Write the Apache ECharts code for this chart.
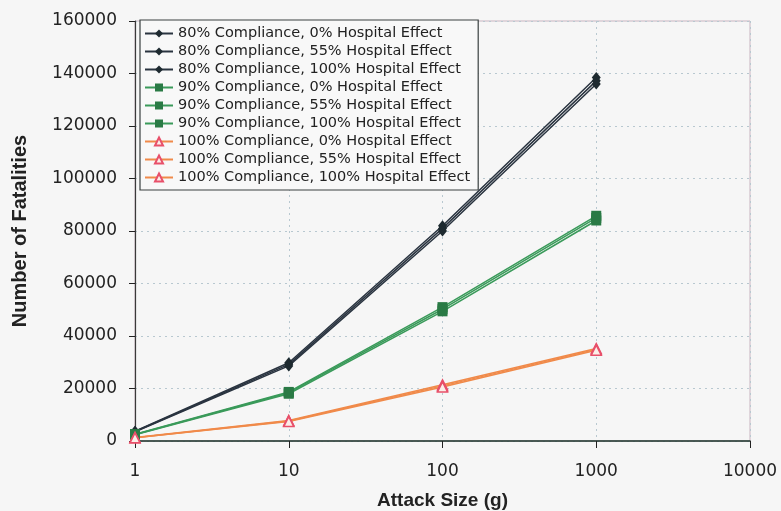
<!DOCTYPE html>
<html>
<head>
<meta charset="utf-8">
<script src="https://cdn.jsdelivr.net/npm/echarts@6/dist/echarts.min.js"></script>
<style>
html,body{margin:0;padding:0;background:#f6f6f6;}
#c{width:781px;height:511px;}
</style>
</head>
<body>
<div id="c"></div>
<script>
const attackSizes = [1, 10, 100, 1000];
const yTicks = [0, 20000, 40000, 60000, 80000, 100000, 120000, 140000, 160000];
const xTicks = [1, 10, 100, 1000, 10000];

const seriesNames = [
  "80% Compliance, 0% Hospital Effect",
  "80% Compliance, 55% Hospital Effect",
  "80% Compliance, 100% Hospital Effect",
  "90% Compliance, 0% Hospital Effect",
  "90% Compliance, 55% Hospital Effect",
  "90% Compliance, 100% Hospital Effect",
  "100% Compliance, 0% Hospital Effect",
  "100% Compliance, 55% Hospital Effect",
  "100% Compliance, 100% Hospital Effect"
];
const c80_h0   = [3700, 29800, 82000, 138500];
const c80_h55  = [3600, 29200, 81000, 137200];
const c80_h100 = [3500, 28600, 80000, 136000];
const c90_h0   = [2600, 18700, 51000, 85800];
const c90_h55  = [2500, 18400, 50200, 85000];
const c90_h100 = [2400, 18000, 49400, 84000];
const c100_h0   = [1300, 7800, 21400, 35200];
const c100_h55  = [1250, 7600, 21000, 34900];
const c100_h100 = [1200, 7400, 20600, 34600];
const seriesValues = [c80_h0, c80_h55, c80_h100, c90_h0, c90_h55, c90_h100, c100_h0, c100_h55, c100_h100];

const styles = [
  {line:'#2a3440', sym:'diamond', symSize:[9,11], fill:'#1e2a30', stroke:'#1e2a30'},
  {line:'#2a3440', sym:'diamond', symSize:[9,11], fill:'#1e2a30', stroke:'#1e2a30'},
  {line:'#2a3440', sym:'diamond', symSize:[9,11], fill:'#1e2a30', stroke:'#1e2a30'},
  {line:'#3a9a5a', sym:'rect', symSize:10, fill:'#2a7a45', stroke:'#2a7a45'},
  {line:'#3a9a5a', sym:'rect', symSize:10, fill:'#2a7a45', stroke:'#2a7a45'},
  {line:'#3a9a5a', sym:'rect', symSize:10, fill:'#2a7a45', stroke:'#2a7a45'},
  {line:'#f08a4a', sym:'triangle', symSize:10, fill:'#fbeee8', stroke:'#e8506a'},
  {line:'#f08a4a', sym:'triangle', symSize:10, fill:'#fbeee8', stroke:'#e8506a'},
  {line:'#f08a4a', sym:'triangle', symSize:10, fill:'#fbeee8', stroke:'#e8506a'}
];

const series = seriesNames.map((n, i) => ({
  name: n,
  type: 'line',
  data: attackSizes.map((x, j) => [x, seriesValues[i][j]]),
  symbol: styles[i].sym,
  symbolSize: styles[i].symSize,
  showAllSymbol: true,
  lineStyle: {color: styles[i].line, width: 1.5},
  itemStyle: {color: styles[i].fill, borderColor: styles[i].stroke, borderWidth: styles[i].sym === 'triangle' ? 1.5 : 0},
  emphasis: {disabled: true},
  z: 3
}));

const chart = echarts.init(document.getElementById('c'), null, {renderer: 'canvas'});
chart.setOption({
  animation: false,
  backgroundColor: '#f6f6f6',
  textStyle: {fontFamily: 'DejaVu Sans, sans-serif'},
  grid: {left: 135, right: 31, top: 21, bottom: 70, outerBoundsMode: 'none', containLabel: false, z: -1,
         show: true, borderColor: '#c9b4c0', borderWidth: 1, backgroundColor: 'transparent'},
  legend: {
    orient: 'vertical',
    left: 140, top: 20,
    itemWidth: 28, itemHeight: 10, itemGap: 3,
    padding: [6, 8, 5, 4],
    backgroundColor: '#f8f8f8',
    borderColor: '#3a4040', borderWidth: 1.2,
    textStyle: {fontSize: 14.5, color: '#222', fontFamily: 'DejaVu Sans, sans-serif', padding: [0, 0, 0, 0]},
    data: seriesNames
  },
  xAxis: {
    type: 'log', logBase: 10, min: 1, max: 10000,
    name: 'Attack Size (g)', nameLocation: 'middle', nameGap: 50,
    nameTextStyle: {fontSize: 19, fontWeight: 'bold', color: '#222', fontFamily: 'Liberation Sans, Arial, sans-serif'},
    axisLine: {show: true, lineStyle: {color: '#1a3028', width: 1.5}},
    axisTick: {show: true, length: 7, lineStyle: {color: '#222'}},
    axisLabel: {fontSize: 17, color: '#222', margin: 22, formatter: v => String(v)},
    splitLine: {show: true, lineStyle: {color: '#b8c8d0', type: [2, 4], width: 1}},
    minorTick: {show: false}
  },
  yAxis: {
    type: 'value', min: 0, max: 160000, interval: 20000,
    name: 'Number of Fatalities', nameLocation: 'middle', nameGap: 105,
    nameTextStyle: {fontSize: 20, fontWeight: 'bold', color: '#222', fontFamily: 'Liberation Sans, Arial, sans-serif'},
    axisLine: {show: true, lineStyle: {color: '#3a3a3a', width: 1.2}},
    axisTick: {show: true, length: 6, lineStyle: {color: '#222'}},
    axisLabel: {fontSize: 17, color: '#222', margin: 18, formatter: v => String(v)},
    splitLine: {show: true, lineStyle: {color: '#b8c8d0', type: [2, 4], width: 1}}
  },
  series: series
});
</script>
</body>
</html>
